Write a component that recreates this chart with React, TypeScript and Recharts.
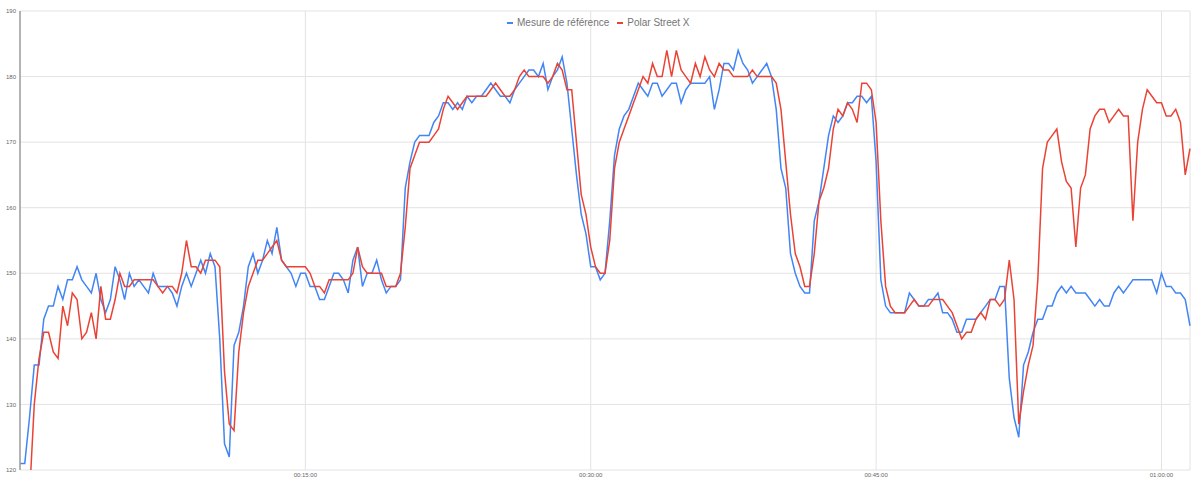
import React from "react";
import { LineChart, Line, XAxis, YAxis, CartesianGrid, Legend } from "recharts";

// one sample every 15 s
const stepSeconds = 15;

const reference = [
  121, 121, 128, 136, 136, 143, 145, 145, 148, 146,
  149, 149, 151, 149, 148, 147, 150, 146, 144, 146,
  151, 149, 146, 150, 148, 149, 148, 147, 150, 148,
  148, 148, 147, 145, 148, 150, 148, 150, 152, 150,
  153, 151, 140, 124, 122, 139, 141, 145, 151, 153,
  150, 152, 155, 153, 157, 152, 151, 150, 148, 150,
  150, 148, 148, 146, 146, 148, 150, 150, 149, 147,
  152, 154, 148, 150, 150, 152, 149, 147, 148, 148,
  149, 163, 167, 170, 171, 171, 171, 173, 174, 176,
  176, 175, 176, 175, 177, 176, 177, 177, 178, 179,
  178, 177, 177, 176, 178, 179, 180, 181, 181, 180,
  182, 178, 180, 181, 183, 179, 172, 165, 159, 156,
  151, 151, 149, 150, 158, 168, 172, 174, 175, 177,
  179, 178, 177, 179, 179, 177, 178, 179, 179, 176,
  178, 179, 179, 179, 179, 180, 175, 178, 182, 182,
  181, 184, 182, 181, 179, 180, 181, 182, 180, 175,
  166, 163, 153, 150, 148, 147, 147, 158, 161, 166,
  171, 174, 173, 174, 176, 176, 177, 177, 176, 177,
  167, 149, 145, 144, 144, 144, 144, 147, 146, 145,
  145, 146, 146, 147, 144, 144, 143, 141, 141, 143,
  143, 143, 144, 145, 146, 146, 148, 148, 134, 128,
  125, 136, 138, 141, 143, 143, 145, 145, 147, 148,
  147, 148, 147, 147, 147, 146, 145, 146, 145, 145,
  147, 148, 147, 148, 149, 149, 149, 149, 149, 147,
  150, 148, 148, 147, 147, 146, 142,
];

const polar = [
  110, 112, 116, 130, 137, 141, 141, 138, 137, 145,
  142, 147, 146, 140, 141, 144, 140, 148, 143, 143,
  146, 150, 148, 148, 149, 149, 149, 149, 149, 148,
  147, 148, 148, 147, 150, 155, 151, 151, 150, 152,
  152, 152, 151, 135, 127, 126, 138, 144, 148, 150,
  152, 152, 153, 154, 155, 152, 151, 151, 151, 151,
  151, 150, 148, 148, 147, 149, 149, 149, 149, 149,
  150, 154, 151, 150, 150, 150, 150, 148, 148, 148,
  150, 157, 166, 168, 170, 170, 170, 171, 172, 175,
  177, 176, 175, 176, 177, 177, 177, 177, 177, 178,
  179, 178, 177, 177, 178, 180, 181, 180, 180, 180,
  180, 179, 180, 182, 181, 178, 178, 170, 162, 159,
  154, 151, 150, 150, 155, 166, 170, 172, 174, 176,
  178, 180, 179, 182, 180, 180, 184, 180, 184, 181,
  180, 179, 182, 180, 183, 181, 180, 182, 181, 181,
  180, 180, 180, 180, 181, 180, 180, 180, 180, 179,
  175, 167, 159, 153, 151, 148, 148, 153, 161, 163,
  166, 172, 175, 174, 176, 175, 173, 179, 179, 178,
  173, 158, 148, 145, 144, 144, 144, 145, 146, 145,
  145, 145, 146, 146, 146, 145, 144, 142, 140, 141,
  141, 143, 144, 143, 146, 146, 145, 146, 152, 146,
  127, 132, 136, 139, 149, 166, 170, 171, 172, 167,
  164, 163, 154, 163, 165, 172, 174, 175, 175, 173,
  174, 175, 174, 174, 158, 170, 175, 178, 177, 176,
  176, 174, 174, 175, 173, 165, 169,
];

const yTicks = [120, 130, 140, 150, 160, 170, 180, 190];
const xTicks = [900, 1800, 2700, 3600];

const series = [
  { key: "reference", name: "Mesure de référence", color: "#4285F4" },
  { key: "polar", name: "Polar Street X", color: "#EA4335" },
];

const data = reference.map((v, i) => ({
  t: i * stepSeconds,
  reference: v,
  polar: polar[i],
}));

const font = "Arial, 'Liberation Sans', sans-serif";

const pad = (n: number) => String(n).padStart(2, "0");
const formatTime = (s: number) =>
  `${pad(Math.floor(s / 3600))}:${pad(Math.floor((s % 3600) / 60))}:${pad(s % 60)}`;

const LegendContent = () => (
  <div
    style={{
      display: "flex",
      alignItems: "center",
      fontFamily: font,
      fontSize: 10,
      lineHeight: "12px",
      color: "#757575",
      whiteSpace: "nowrap",
    }}
  >
    {series.map((s, i) => (
      <div key={s.key} style={{ display: "flex", alignItems: "center", marginLeft: i ? 8 : 0 }}>
        <span style={{ display: "inline-block", width: 6, height: 2, background: s.color, marginRight: 4 }} />
        <span>{s.name}</span>
      </div>
    ))}
  </div>
);

export default function App() {
  return (
    <div style={{ position: "absolute", left: 0, top: 0, width: 1200, height: 485, background: "#fff" }}>
      <LineChart width={1200} height={485} data={data} margin={{ top: 11, right: 10, bottom: 0, left: 0 }}>
        <CartesianGrid stroke="#e3e3e3" strokeWidth={1} />
        <XAxis
          dataKey="t"
          type="number"
          domain={[0, 3690]}
          ticks={xTicks}
          tickFormatter={formatTime}
          axisLine={false}
          tickLine={false}
          tickSize={0}
          tickMargin={3}
          height={15}
          tick={{ fontSize: 6, fill: "#666", fontFamily: font }}
        />
        <YAxis
          type="number"
          domain={[120, 190]}
          ticks={yTicks}
          allowDataOverflow
          width={20}
          axisLine={{ stroke: "#9e9e9e", strokeWidth: 1.5 }}
          tickLine={false}
          tickSize={0}
          tickMargin={4}
          tick={{ fontSize: 6, fill: "#666", fontFamily: font }}
        />
        <Legend
          verticalAlign="middle"
          align="center"
          content={<LegendContent />}
          wrapperStyle={{ top: 17, left: 507, width: "auto", height: 12 }}
        />
        {series.map((s) => (
          <Line
            key={s.key}
            dataKey={s.key}
            name={s.name}
            stroke={s.color}
            strokeWidth={1.5}
            dot={false}
            type="linear"
            isAnimationActive={false}
          />
        ))}
      </LineChart>
    </div>
  );
}
